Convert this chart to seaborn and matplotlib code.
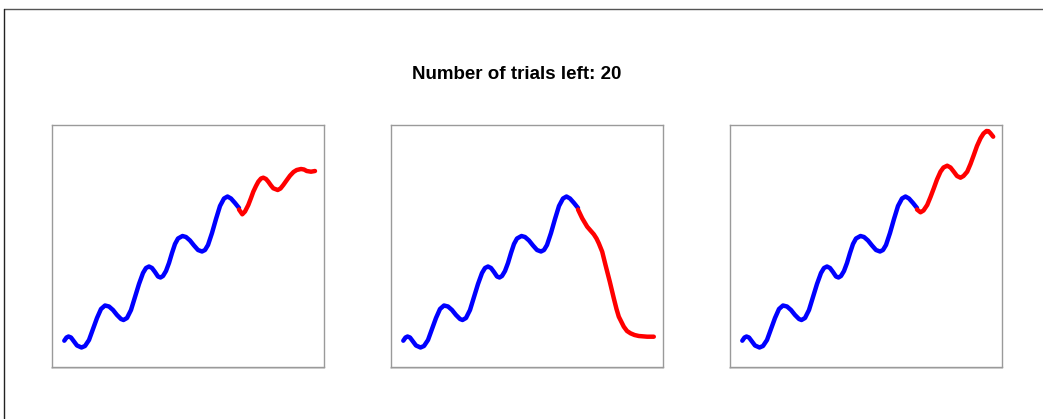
import pandas as pd
import seaborn as sns
import matplotlib.pyplot as plt
from matplotlib.lines import Line2D

# shared history (blue): x, y inside each panel box
hist_x = [12.3, 14.5, 16.5, 19, 22, 25, 29.5, 33, 37, 41, 45, 49, 53, 57, 61, 65, 69, 71.5,
          75, 79, 83, 87, 91, 94, 97, 100, 103, 106, 108.5, 111, 114, 117, 120, 123, 126,
          130.5, 134, 138, 142, 146, 150, 153, 156, 160, 164, 168, 172, 175.5, 179, 183, 187]
hist_y = [26.3, 29.5, 30.5, 29.5, 25.5, 21.5, 19.5, 21, 27, 38, 49, 58, 61.5, 60.5, 57, 52, 48, 47,
          49, 57, 70, 83, 94, 99, 100.5, 99, 95, 90.5, 89.5, 91, 96, 104, 114, 123, 128.5,
          131, 130, 126.5, 121.5, 117, 115.5, 117, 122, 134, 148, 161, 168.5, 170.5, 168.5, 164, 159]

# the three candidate continuations (red)
fut1_x = [187, 190.3, 193, 196.3, 199, 201.3, 204, 206.3, 209, 211.3, 214, 216.3, 219, 221.3,
          225.7, 228.5, 231.3, 234.5, 238, 241.5, 244.7, 249, 252, 254.7, 259, 263]
fut1_y = [157.5, 152.7, 155.5, 162, 169, 175.3, 181, 185.3, 188.5, 189.3, 188, 185.3, 181.5, 178.7,
          177, 178.5, 182, 186.5, 191.3, 195, 197, 198, 197.5, 196, 195.3, 196]

fut2_x = [187, 191.2, 196.2, 202.8, 205.5, 207.8, 211.2, 214.5, 218.8, 222.8, 225.5, 227.8,
          232.8, 236, 239.5, 243.5, 247.8, 256.2, 262.8]
fut2_y = [157.5, 148.7, 140.3, 132.7, 128.5, 123.7, 115.3, 102, 85.3, 68.7, 58, 50.3,
          40.3, 36, 33.7, 32, 31, 30.3, 30.3]

fut3_x = [187, 190.5, 193.5, 197.2, 200.5, 203.8, 207, 210.5, 213.5, 217.2, 220.5, 223.8, 227,
          230.5, 233.5, 237.2, 240.5, 243.8, 247, 250.5, 253.5, 256.5, 258.5, 260.5, 263.2]
fut3_y = [157.5, 154.7, 156.5, 162, 170, 178.7, 187.5, 195.3, 199.5, 201.3, 199.5, 195.3, 191,
          189.3, 191, 195.3, 203, 212, 221, 228.7, 233.5, 236, 235.8, 233.7, 230.3]

futures = [(fut1_x, fut1_y), (fut2_x, fut2_y), (fut3_x, fut3_y)]
title = "Number of trials left: 20"

sns.set_style("white")
W, H = 1043, 419
fig = plt.figure(figsize=(W / 100, H / 100), dpi=100)

hist = pd.DataFrame({"x": hist_x, "y": hist_y})
lefts = [52, 391, 730]
for left, (fx, fy) in zip(lefts, futures):
    ax = fig.add_axes([left / W, 52 / H, 272 / W, 242 / H])
    fut = pd.DataFrame({"x": fx, "y": fy})
    sns.lineplot(data=hist, x="x", y="y", sort=False, estimator=None, color="#0000ff",
                 lw=3.2, ax=ax, solid_capstyle="round")
    sns.lineplot(data=fut, x="x", y="y", sort=False, estimator=None, color="#ff0000",
                 lw=3.2, ax=ax, solid_capstyle="round")
    ax.set_xlim(0, 272)
    ax.set_ylim(0, 242)
    ax.set_xticks([])
    ax.set_yticks([])
    ax.set_xlabel("")
    ax.set_ylabel("")
    for sp in ax.spines.values():
        sp.set_color("#9a9a9a")
        sp.set_linewidth(1.0)
    # faint shadow under the box
    ax.plot([0, 1], [-0.006, -0.006], transform=ax.transAxes, color="#d0d0d0",
            lw=1.2, clip_on=False)

fig.text(517 / W, 1 - 78.7 / H, title, ha="center", va="baseline", color="black",
         fontsize=13.5, fontweight="bold", family=["Liberation Sans", "DejaVu Sans"])

# outer frame (top and left edges visible in the crop)
fig.add_artist(Line2D([4 / W, 1], [1 - 9.5 / H, 1 - 9.5 / H], transform=fig.transFigure,
                      color="#555555", lw=1.0))
fig.add_artist(Line2D([4 / W, 4 / W], [0, 1 - 9.5 / H], transform=fig.transFigure,
                      color="#222222", lw=1.0))

fig.savefig("out.png", dpi=100)
plt.close(fig)
